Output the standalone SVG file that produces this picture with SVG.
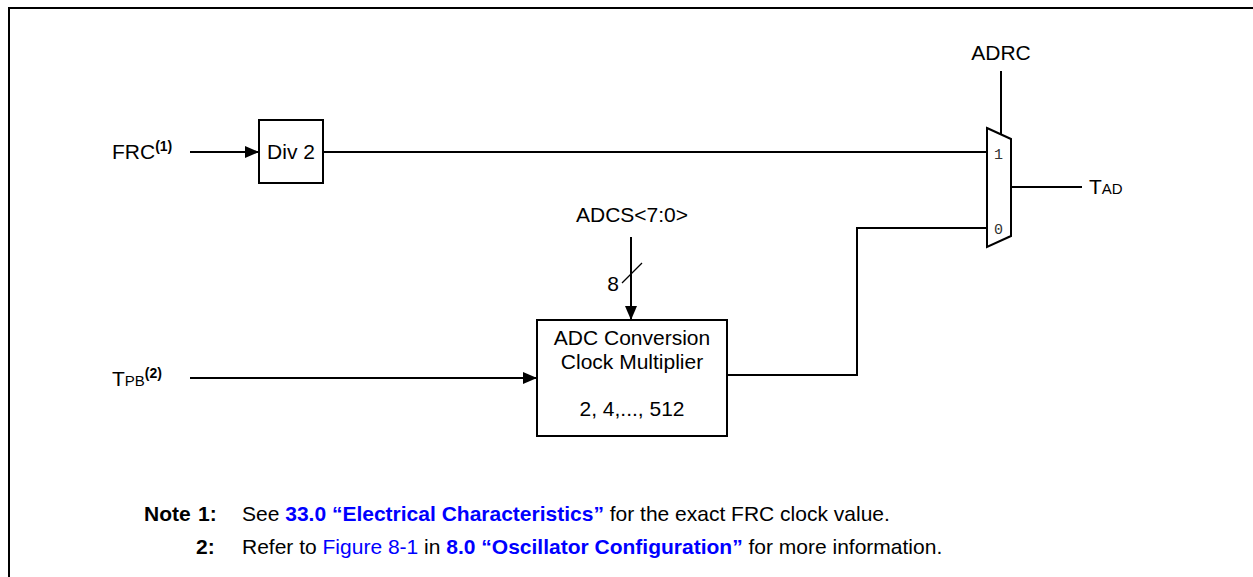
<svg xmlns="http://www.w3.org/2000/svg" width="1253" height="577" viewBox="0 0 1253 577">
<defs>
<marker id="arr" markerWidth="14" markerHeight="12" refX="14" refY="6" orient="auto" markerUnits="userSpaceOnUse">
<path d="M0,0 L14,6 L0,12 Z" fill="#000"/>
</marker>
<style>
.t{font-family:"Liberation Sans",Arial,sans-serif;font-size:21px;fill:#000}
.sup{font-family:"Liberation Sans",Arial,sans-serif;font-size:14px;font-weight:bold;fill:#000}
.sc{font-family:"Liberation Sans",Arial,sans-serif;font-size:15px;fill:#000}
.m{font-family:"Liberation Mono","DejaVu Sans Mono",monospace;font-size:15px;fill:#333}
.n{font-family:"Liberation Sans",Arial,sans-serif;font-size:21px;fill:#000}
.b{font-weight:bold}
.bl{fill:#0000ff}
.ln{fill:none;stroke:#000;stroke-width:2}
.box{fill:#fff;stroke:#000;stroke-width:2}
</style>
</defs>
<path class="ln" d="M9,577 V8 H1253"/>
<g id="connectors">
<line class="ln" x1="190" y1="152" x2="259" y2="152" marker-end="url(#arr)"/>
<line class="ln" x1="323" y1="152" x2="988" y2="152"/>
<line class="ln" x1="190" y1="378" x2="537" y2="378" marker-end="url(#arr)"/>
<line class="ln" x1="631" y1="237" x2="631" y2="320" marker-end="url(#arr)"/>
<line x1="622" y1="283" x2="642" y2="263" stroke="#000" stroke-width="1.2"/>
<path class="ln" d="M727,375 H857 V228 H988"/>
<line class="ln" x1="1001" y1="71" x2="1001" y2="134"/>
<line class="ln" x1="1011" y1="187" x2="1082" y2="187"/>
</g>
<g id="frc">
<text class="t" x="112" y="159">FRC<tspan class="sup" dy="-8">(1)</tspan></text>
</g>
<g id="tpb">
<text class="t" x="112" y="386">T<tspan class="sc">PB</tspan><tspan class="sup" dy="-8">(2)</tspan></text>
</g>
<g id="div2">
<rect class="box" x="259" y="120" width="64" height="63"/>
<text class="t" x="291" y="159" text-anchor="middle">Div 2</text>
</g>
<g id="adcs">
<text class="t" x="632" y="222" text-anchor="middle">ADCS&lt;7:0&gt;</text>
<text class="t" x="613" y="291" text-anchor="middle">8</text>
</g>
<g id="adc">
<rect class="box" x="537" y="320" width="190" height="116"/>
<text class="t" x="632" y="345" text-anchor="middle">ADC Conversion</text>
<text class="t" x="632" y="369" text-anchor="middle">Clock Multiplier</text>
<text class="t" x="632" y="416" text-anchor="middle">2, 4,..., 512</text>
</g>
<g id="mux">
<path class="box" d="M987,128 L1011,139 L1011,236 L987,247 Z"/>
<text class="m" x="994" y="159">1</text>
<text class="m" x="994" y="234">0</text>
</g>
<g id="adrc">
<text class="t" x="1001" y="60" text-anchor="middle">ADRC</text>
</g>
<g id="tad">
<text class="t" x="1089" y="194">T<tspan class="sc">AD</tspan></text>
</g>
<g id="notes">
<text class="n b" x="144" y="521">Note</text>
<text class="n b" x="198" y="521">1:</text>
<text class="n" x="242" y="521">See <tspan class="b bl">33.0 “Electrical Characteristics”</tspan> for the exact FRC clock value.</text>
<text class="n b" x="196" y="554">2:</text>
<text class="n" x="242" y="554">Refer to <tspan class="bl">Figure 8-1</tspan> in <tspan class="b bl">8.0 “Oscillator Configuration”</tspan> for more information.</text>
</g>
</svg>
